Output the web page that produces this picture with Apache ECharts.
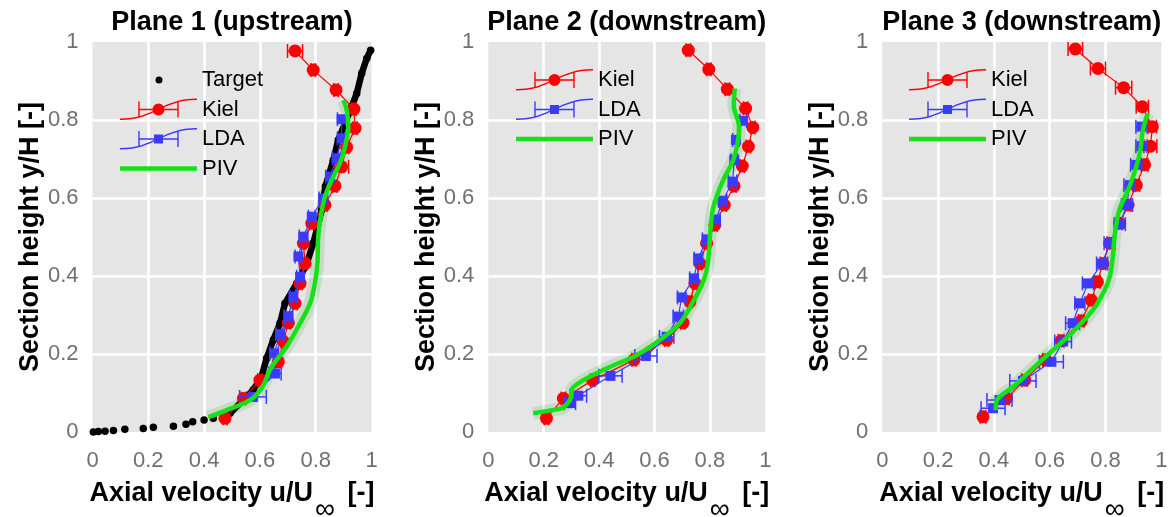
<!DOCTYPE html>
<html><head><meta charset="utf-8">
<script src="https://cdn.jsdelivr.net/npm/echarts@6/dist/echarts.min.js"></script>
<style>html,body{margin:0;padding:0;background:#fff}#c{width:1173px;height:517px}</style>
</head><body><div id="c"></div>
<script>
// ---------- data ----------
const titles = ['Plane 1 (upstream)', 'Plane 2 (downstream)', 'Plane 3 (downstream)'];
const xTicks = [0, 0.2, 0.4, 0.6, 0.8, 1];
const yTicks = [0, 0.2, 0.4, 0.6, 0.8, 1];

// Plane 1
const targetTailU = [0.003,0.021,0.045,0.075,0.116,0.182,0.218,0.29,0.335,0.359,0.40,0.433];
const targetTailV = [0.0,0.001,0.002,0.004,0.007,0.009,0.012,0.015,0.02,0.026,0.031,0.035];
const targetU = [0.493,0.541,0.576,0.606,0.624,0.648,0.672,0.69,0.732,0.768,0.791,0.804,0.821,0.835,0.863,0.881,0.905,0.929,0.947,0.965,0.983,0.997];
const targetV = [0.048,0.082,0.108,0.142,0.189,0.236,0.279,0.33,0.381,0.432,0.484,0.518,0.569,0.63,0.697,0.749,0.792,0.834,0.868,0.92,0.958,0.979];
const kiel1U = [0.726,0.791,0.873,0.937,0.941,0.911,0.893,0.869,0.833,0.786,0.756,0.762,0.744,0.726,0.702,0.684,0.666,0.60,0.541,0.475];
const kiel1V = [0.977,0.928,0.877,0.828,0.779,0.73,0.68,0.631,0.582,0.535,0.484,0.432,0.381,0.33,0.28,0.232,0.18,0.133,0.086,0.035];
const kiel1E = [0.027,0.008,0.008,0.008,0.008,0.008,0.025,0.008,0.008,0.008,0.008,0.008,0.008,0.008,0.008,0.008,0.012,0.008,0.008,0.008];
const lda1U = [0.893,0.893,0.875,0.851,0.827,0.786,0.756,0.738,0.744,0.72,0.702,0.672,0.651,0.654,0.575];
const lda1V = [0.802,0.753,0.702,0.655,0.599,0.552,0.501,0.45,0.398,0.347,0.297,0.251,0.202,0.15,0.09];
const lda1E = [0.015,0.015,0.015,0.015,0.015,0.012,0.015,0.012,0.012,0.012,0.015,0.015,0.015,0.022,0.048];
const piv1U = [0.415,0.481,0.565,0.606,0.642,0.696,0.744,0.78,0.797,0.806,0.809,0.818,0.833,0.863,0.887,0.905,0.917,0.911,0.899];
const piv1V = [0.038,0.056,0.082,0.112,0.167,0.219,0.279,0.33,0.381,0.432,0.501,0.552,0.603,0.655,0.689,0.732,0.783,0.826,0.851];

// Plane 2
const kiel2U = [0.722,0.796,0.863,0.929,0.955,0.939,0.917,0.887,0.852,0.818,0.788,0.764,0.746,0.728,0.703,0.644,0.526,0.377,0.271,0.21];
const kiel2V = [0.979,0.93,0.879,0.83,0.781,0.732,0.682,0.631,0.582,0.531,0.484,0.432,0.381,0.334,0.28,0.236,0.185,0.133,0.086,0.035];
const kiel2E = [0.008,0.008,0.008,0.008,0.008,0.008,0.008,0.008,0.008,0.008,0.008,0.008,0.008,0.008,0.008,0.008,0.008,0.008,0.008,0.008];
const lda2U = [0.92,0.894,0.888,0.882,0.846,0.822,0.788,0.758,0.742,0.698,0.686,0.644,0.569,0.441,0.325,0.295];
const lda2V = [0.798,0.749,0.697,0.642,0.593,0.545,0.494,0.445,0.394,0.345,0.296,0.244,0.195,0.144,0.093,0.074];
const lda2E = [0.012,0.012,0.012,0.015,0.015,0.015,0.015,0.015,0.015,0.015,0.019,0.026,0.04,0.042,0.03,0.02];
const piv2U = [0.162,0.247,0.271,0.295,0.307,0.415,0.535,0.619,0.691,0.733,0.778,0.794,0.802,0.81,0.824,0.848,0.884,0.902,0.905,0.886,0.89];
const piv2V = [0.048,0.058,0.063,0.082,0.115,0.159,0.197,0.236,0.279,0.326,0.39,0.441,0.518,0.569,0.603,0.646,0.697,0.749,0.783,0.838,0.881];

// Plane 3
const kiel3U = [0.692,0.773,0.865,0.932,0.968,0.961,0.94,0.91,0.881,0.851,0.815,0.791,0.771,0.749,0.713,0.641,0.585,0.51,0.445,0.361];
const kiel3V = [0.982,0.932,0.883,0.834,0.783,0.733,0.685,0.633,0.582,0.535,0.484,0.432,0.385,0.338,0.285,0.234,0.185,0.133,0.086,0.039];
const kiel3E = [0.026,0.027,0.029,0.022,0.015,0.023,0.012,0.012,0.01,0.01,0.01,0.01,0.01,0.01,0.01,0.01,0.01,0.01,0.01,0.01];
const lda3U = [0.929,0.929,0.91,0.886,0.877,0.851,0.815,0.788,0.737,0.708,0.682,0.648,0.606,0.504,0.42,0.397];
const lda3V = [0.783,0.733,0.685,0.633,0.582,0.533,0.484,0.432,0.381,0.33,0.279,0.232,0.18,0.131,0.082,0.061];
const lda3E = [0.02,0.02,0.02,0.02,0.02,0.02,0.02,0.02,0.02,0.018,0.025,0.03,0.043,0.047,0.045,0.043];
const piv3U = [0.406,0.411,0.469,0.565,0.672,0.755,0.797,0.816,0.826,0.834,0.85,0.886,0.91,0.925,0.934,0.952];
const piv3V = [0.056,0.082,0.116,0.18,0.249,0.313,0.364,0.40,0.45,0.51,0.57,0.629,0.68,0.723,0.774,0.817];

// ---------- styling ----------
const FONT = '"Liberation Sans", Arial, Helvetica, sans-serif';
const RED = '#FF0000', BLUE = '#3B3BFF', GREEN = '#16E016';
const grids = [
  {left: 92.5, top: 42, width: 279, height: 390},
  {left: 488.3, top: 42, width: 277, height: 390},
  {left: 882.3, top: 42, width: 279, height: 390}
];
const legendLeft = [120, 516, 909];

const zip2 = (a, b) => a.map((x, i) => [x, b[i]]);
const zip3 = (a, b, c) => a.map((x, i) => [x, b[i], c[i]]);

const panels = [
  {kU: kiel1U, kV: kiel1V, kE: kiel1E, lU: lda1U, lV: lda1V, lE: lda1E, pU: piv1U, pV: piv1V},
  {kU: kiel2U, kV: kiel2V, kE: kiel2E, lU: lda2U, lV: lda2V, lE: lda2E, pU: piv2U, pV: piv2V},
  {kU: kiel3U, kV: kiel3V, kE: kiel3E, lU: lda3U, lV: lda3V, lE: lda3E, pU: piv3U, pV: piv3V}
];

// legend icons (77 x 22 boxes)
const CURVE = 'M0 20C35 20 42 0 77 0L77 1.4C42 1.4 35 21.4 0 21.4Z';
const BARS = 'M19 10.3H58V11.7H19Z M18.3 3H19.7V19H18.3Z M57.3 3H58.7V19H57.3Z';
const ICON_KIEL = 'path://M0 0M77 22' + CURVE + BARS + 'M32.5 11A6 6 0 1 1 44.5 11A6 6 0 1 1 32.5 11Z';
const ICON_LDA = 'path://M0 0M77 22' + CURVE + BARS + 'M34 6.5H43V15.5H34Z';
const ICON_PIV = 'path://M0 0M77 22M0 8.8H77V13.2H0Z';
const ICON_TARGET = 'path://M0 0M77 22M35.5 11A3.5 3.5 0 1 1 42.5 11A3.5 3.5 0 1 1 35.5 11Z';

function errRender(params, api) {
  const u = api.value(0), v = api.value(1), e = api.value(2);
  const a = api.coord([u - e, v]), b = api.coord([u + e, v]);
  const c = 7;
  const st = {stroke: api.visual('color'), lineWidth: 1.5, fill: null};
  return {type: 'group', children: [
    {type: 'line', shape: {x1: a[0], y1: a[1], x2: b[0], y2: b[1]}, style: st},
    {type: 'line', shape: {x1: a[0], y1: a[1] - c, x2: a[0], y2: a[1] + c}, style: st},
    {type: 'line', shape: {x1: b[0], y1: b[1] - c, x2: b[0], y2: b[1] + c}, style: st}
  ]};
}

const series = [];
panels.forEach((p, i) => {
  series.push({type: 'line', name: 'PIV band', xAxisIndex: i, yAxisIndex: i, data: zip2(p.pU, p.pV),
    smooth: 0.35, symbol: 'none', silent: true, z: 1,
    lineStyle: {width: 13, color: 'rgba(40,170,40,0.17)'}});
  if (i === 0) {
    series.push({type: 'scatter', name: 'Target', xAxisIndex: 0, yAxisIndex: 0,
      data: zip2(targetTailU, targetTailV).concat(zip2(targetU, targetV)),
      symbol: 'circle', symbolSize: 7.5, itemStyle: {color: '#000', opacity: 1}, z: 2});
    series.push({type: 'line', name: 'Target', xAxisIndex: 0, yAxisIndex: 0, data: zip2(targetU, targetV),
      symbol: 'none', lineStyle: {width: 6.5, color: '#000'}, itemStyle: {color: '#000'}, z: 2});
  }
  series.push({type: 'line', name: 'Kiel', xAxisIndex: i, yAxisIndex: i, data: zip2(p.kU, p.kV),
    symbol: 'circle', symbolSize: 13, lineStyle: {width: 1.2, color: RED}, itemStyle: {color: RED}, z: 4});
  series.push({type: 'custom', name: 'Kiel', xAxisIndex: i, yAxisIndex: i, data: zip3(p.kU, p.kV, p.kE),
    dimensions: ['u', 'v', 'e'], encode: {x: 0, y: 1}, renderItem: errRender, itemStyle: {color: RED}, z: 3});
  series.push({type: 'line', name: 'LDA', xAxisIndex: i, yAxisIndex: i, data: zip2(p.lU, p.lV),
    symbol: 'rect', symbolSize: 10, lineStyle: {width: 1.2, color: BLUE}, itemStyle: {color: BLUE}, z: 6});
  series.push({type: 'custom', name: 'LDA', xAxisIndex: i, yAxisIndex: i, data: zip3(p.lU, p.lV, p.lE),
    dimensions: ['u', 'v', 'e'], encode: {x: 0, y: 1}, renderItem: errRender, itemStyle: {color: BLUE}, z: 5});
  series.push({type: 'line', name: 'PIV', xAxisIndex: i, yAxisIndex: i, data: zip2(p.pU, p.pV),
    smooth: 0.35, symbol: 'none', lineStyle: {width: 4.5, color: GREEN}, itemStyle: {color: GREEN}, z: 8});
});

// title positions (centre each title over its plot)
const ctx = document.createElement('canvas').getContext('2d');
ctx.font = 'bold 27px ' + FONT;
const title = titles.map((t, i) => ({
  text: t, top: 9, padding: 0,
  left: grids[i].left + grids[i].width / 2 - ctx.measureText(t).width / 2,
  textStyle: {fontSize: 27, fontWeight: 'bold', color: '#000', fontFamily: FONT}
}));

const legend = [0, 1, 2].map(i => {
  const items = [
    {name: 'Kiel', icon: ICON_KIEL}, {name: 'LDA', icon: ICON_LDA}, {name: 'PIV', icon: ICON_PIV}
  ];
  if (i === 0) items.unshift({name: 'Target', icon: ICON_TARGET});
  return {
    orient: 'vertical', left: legendLeft[i], top: 69, padding: 0,
    itemWidth: 77, itemHeight: 22, itemGap: 7.5, selectedMode: false,
    itemStyle: {borderWidth: 0}, lineStyle: {width: 0},
    textStyle: {fontSize: 22, color: '#000', fontFamily: FONT},
    data: items
  };
});

const xAxis = grids.map((g, i) => ({
  gridIndex: i, type: 'value', min: xTicks[0], max: xTicks[xTicks.length - 1], interval: 0.2,
  axisLine: {show: false}, axisTick: {show: false},
  splitLine: {show: true, showMinLine: false, showMaxLine: false, lineStyle: {color: '#fff', width: 2.5}},
  axisLabel: {fontSize: 22, color: '#707070', margin: 18, fontFamily: FONT},
  name: '{a|Axial velocity u/U}{b|∞}{a| [-]}', nameLocation: 'middle', nameGap: 48,
  nameTextStyle: {fontFamily: FONT, rich: {
    a: {fontSize: 27, fontWeight: 'bold', color: '#000', fontFamily: FONT, verticalAlign: 'top'},
    b: {fontSize: 28, color: '#000', fontFamily: FONT, verticalAlign: 'top', padding: [16, 5, 0, 2]}
  }}
}));
const yAxis = grids.map((g, i) => ({
  gridIndex: i, type: 'value', min: yTicks[0], max: yTicks[yTicks.length - 1], interval: 0.2,
  axisLine: {show: false}, axisTick: {show: false},
  splitLine: {show: true, showMinLine: false, showMaxLine: false, lineStyle: {color: '#fff', width: 2.5}},
  axisLabel: {fontSize: 22, color: '#707070', margin: 14, fontFamily: FONT},
  name: 'Section height y/H [-]', nameLocation: 'middle', nameGap: 41,
  nameTextStyle: {fontSize: 27, fontWeight: 'bold', color: '#000', fontFamily: FONT}
}));

const chart = echarts.init(document.getElementById('c'), null, {renderer: 'canvas'});
chart.setOption({
  backgroundColor: '#fff',
  animation: false,
  title: title,
  legend: legend,
  grid: grids.map(g => Object.assign({show: true, backgroundColor: '#E5E5E5', borderWidth: 0,
    containLabel: false, outerBoundsMode: 'none'}, g)),
  xAxis: xAxis,
  yAxis: yAxis,
  series: series
});
</script></body></html>
